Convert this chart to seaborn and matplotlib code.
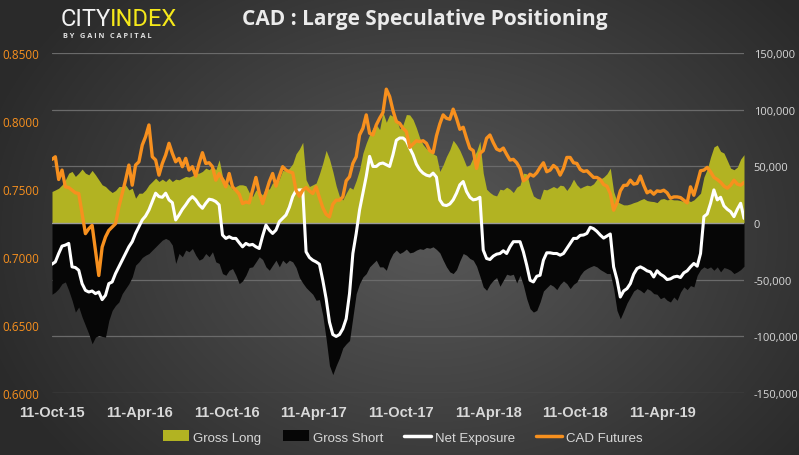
import numpy as np
import pandas as pd
import matplotlib
matplotlib.use("Agg")
import matplotlib.pyplot as plt
from matplotlib.ticker import FuncFormatter, FixedLocator
from matplotlib.lines import Line2D
from matplotlib.patches import Patch
import seaborn as sns

# ---------------- data (weekly) ----------------
start_date = "2015-10-11"

gross_long = [
    27800, 29200, 30700, 33700, 38100, 44000, 45500, 41100, 44000, 47600,
    44000, 42500, 46400, 42500, 38100, 33700, 32200, 29200, 26900, 28700,
    32200, 32200, 33700, 29200, 30700, 21900, 26300, 26300, 29200, 33700,
    36600, 39600, 36600, 38700, 36600, 39600, 36600, 38700, 38100, 39600,
    41100, 40500, 41700, 44000, 44000, 45500, 48400, 47000, 49900, 47000,
    55800, 41100, 36600, 33700,
    29800, 32200, 33700, 33700, 32800, 26900, 23300, 29200, 26900, 24800,
    31600, 29800, 35700, 32800, 38700, 46400, 45800, 48400, 52300, 61100,
    65300, 71200, 38100, 32200, 33700, 35200, 43400, 52900, 64100, 56400,
    45500, 32800, 23300, 20400, 26300, 31600, 29800, 37500, 47000, 61700,
    70600, 78000, 83900, 86800, 82400, 97800, 88900, 95700, 94200, 92800,
    83000, 86800,
    95700, 95400, 91300, 83900, 75000, 69100, 65600, 63200, 61100, 59400,
    45500, 51400, 58800, 64700, 73000, 69100, 64100, 57300, 49900, 51400,
    58200, 63200, 72100, 44000, 29800, 26900, 24800, 23900, 29800, 29200,
    31600, 29800, 26900, 31600, 33400, 44000, 43400, 32200, 23900, 21900,
    21000, 29800, 29200, 30700, 32200, 30700, 33400, 32800, 28700, 32800,
    38700,
    33700, 30700, 32200, 33400, 32800, 34600, 38700, 38700, 40500, 43400,
    48400, 27800, 18900, 17400, 16000, 16000, 16800, 18000, 18900, 20400,
    21600, 19800, 19200, 18900, 18000, 21000, 21600, 20400, 21000, 20400,
    20400, 19800, 18900, 20400, 18900, 20400, 23300, 26300, 40500, 47600,
    58200, 67100, 68800, 63200, 61700, 55200, 48400, 47000, 49300, 56400,
    60300,
]

gross_short = [
    -62900, -60900, -57900, -53500, -52000, -59400, -68200, -78600, -74100, -83000,
    -90400, -97800, -106600, -100700, -99300, -100100, -100700, -86000, -77100, -72700,
    -69700, -62300, -57900, -53500, -47600, -37200, -34300, -30400, -28400, -26900,
    -23900, -21000, -18000, -15100, -13600, -15100, -19500, -35700, -26900, -29800,
    -23900, -25400, -22500, -28400, -32800, -31300, -26900, -29800, -25400, -34300,
    -35700, -44600, -46100, -41700,
    -40200, -46100, -53500, -51100, -46100, -39300, -38700, -34300, -29800, -32200,
    -38700, -41700, -37200, -32800, -38700, -32800, -35700, -32800, -34300, -39300,
    -48100, -52900, -57000, -60000, -62900, -68200, -67600, -81500, -102200, -125800,
    -133800, -125800, -119000, -110200, -106600, -103700, -83000, -62300, -53500, -47600,
    -44600, -38700, -35700, -32800, -38700, -38700, -41700, -32800, -26900, -23900,
    -26900, -25400,
    -23000, -26300, -25700, -23900, -22700, -23300, -21600, -22200, -21000, -23300,
    -26300, -32800, -38700, -43100, -44600, -41100, -33400, -26900, -28400, -31300,
    -32800, -38100, -47000, -56400, -59400, -54100, -50500, -48100, -55800, -50500,
    -45200, -46100, -45200, -52900, -46100, -54900, -66800, -75600, -78600, -77100,
    -69700, -60000, -57000, -54100, -55800, -58800, -54100, -51100, -53500, -57900,
    -54100,
    -52000, -46100, -42200, -40200, -38700, -37500, -38700, -41100, -42800, -44600,
    -44600, -57900, -77100, -84500, -77700, -70600, -65300, -60000, -57900, -59400,
    -61700, -57900, -59400, -62300, -62900, -66800, -65300, -68200, -69700, -65300,
    -68200, -60900, -56400, -58800, -55200, -56400, -46100, -41100, -38700, -40200,
    -38700, -41700, -38700, -43100, -39300, -40200, -41700, -44600, -43100, -41100,
    -38100,
]

net_exposure = [
    -36300, -34300, -26900, -20400, -19500, -18000, -38700, -39300, -41700, -53500,
    -59400, -60900, -60000, -62300, -60900, -67600, -63800, -53500, -52000, -44600,
    -38700, -32800, -26900, -21000, -16500, -9200, -3200, 2700, 6200, 11500,
    18900, 26300, 23300, 22700, 26300, 20400, 18000, 2700, 7100, 12100,
    16000, 20400, 23300, 20400, 16000, 13000, 17400, 21000, 20400, 18900,
    16000, -10600, -13600, -12100,
    -13600, -13600, -17400, -21000, -18000, -19500, -18900, -21000, -22500, -11500,
    -1800, -6200, -9200, -6200, 1200, 4100, 7100, 13900, 23300, 28700,
    29200, 29200, -25400, -30400, -32800, -34300, -36300, -50500, -66800, -87400,
    -98400, -100100, -98400, -93300, -84500, -62300, -26900, -9200, 11500, 26300,
    41100, 58800, 49900, 49900, 52300, 52900, 51400, 49900, 60300, 73000,
    75000, 75000,
    72400, 66200, 60300, 52000, 47000, 44000, 42200, 41400, 44000, 40500,
    20400, 16000, 15400, 16800, 20400, 26300, 33700, 36600, 27800, 22700,
    20400, 21000, 22700, -23900, -31300, -32200, -29200, -27500, -26900, -24500,
    -26900, -21000, -16500, -16500, -16500, -25400, -37200, -50500, -52000, -47000,
    -46100, -32800, -26300, -26300, -26900, -26900, -28400, -26900, -22500, -18000,
    -13600,
    -13600, -10900, -10600, -9200, -3800, -5000, -7400, -10600, -13300, -11500,
    -9700, -38700, -49900, -65300, -60000, -57900, -53500, -45200, -40200, -38700,
    -40200, -42200, -43100, -47600, -42200, -45200, -47000, -49900, -49300, -47600,
    -47000, -48100, -44000, -42200, -38700, -35700, -38100, -26900, 5600, 8000,
    17400, 29200, 20400, 22700, 15100, 12100, 10000, 5600, 12100, 17400,
    4100,
]

cad_futures = [
    0.7718, 0.7737, 0.7570, 0.7639, 0.7516, 0.7511, 0.7491, 0.7472, 0.7467, 0.7319,
    0.7172, 0.7208, 0.7233, 0.7049, 0.6864, 0.7073, 0.7147, 0.7196, 0.7221, 0.7245,
    0.7368, 0.7467, 0.7565, 0.7676, 0.7528, 0.7676, 0.7700, 0.7823, 0.7885, 0.7971,
    0.7737, 0.7713, 0.7602, 0.7688, 0.7750, 0.7836, 0.7762, 0.7700, 0.7725, 0.7664,
    0.7725, 0.7639, 0.7664, 0.7595, 0.7688, 0.7767, 0.7688, 0.7693, 0.7664, 0.7565,
    0.7614, 0.7570, 0.7516, 0.7614,
    0.7516, 0.7491, 0.7462, 0.7393, 0.7405, 0.7398, 0.7491, 0.7585, 0.7472, 0.7393,
    0.7472, 0.7553, 0.7614, 0.7521, 0.7595, 0.7664, 0.7639, 0.7627, 0.7619, 0.7491,
    0.7447, 0.7491, 0.7511, 0.7486, 0.7467, 0.7516, 0.7437, 0.7363, 0.7314, 0.7295,
    0.7388, 0.7418, 0.7418, 0.7442, 0.7560, 0.7590, 0.7688, 0.7737, 0.7897, 0.7946,
    0.8045, 0.7910, 0.7897, 0.7971, 0.8020, 0.8062, 0.8234, 0.8180, 0.8077, 0.7996,
    0.7983, 0.7946,
    0.7922, 0.7806, 0.7831, 0.7855, 0.7848, 0.7855, 0.7836, 0.7782, 0.7767, 0.7890,
    0.7978, 0.8045, 0.8020, 0.8013, 0.8087, 0.8020, 0.7939, 0.7954, 0.7873, 0.7799,
    0.7782, 0.7651, 0.7762, 0.7782, 0.7873, 0.7897, 0.7841, 0.7794, 0.7782, 0.7801,
    0.7755, 0.7713, 0.7718, 0.7693, 0.7651, 0.7560, 0.7577, 0.7609, 0.7595, 0.7619,
    0.7659, 0.7693, 0.7627, 0.7639, 0.7673, 0.7654, 0.7602, 0.7651, 0.7732, 0.7732,
    0.7693,
    0.7688, 0.7644, 0.7629, 0.7634, 0.7609, 0.7585, 0.7585, 0.7570, 0.7533, 0.7521,
    0.7467, 0.7344, 0.7398, 0.7486, 0.7526, 0.7528, 0.7565, 0.7536, 0.7541, 0.7595,
    0.7528, 0.7472, 0.7486, 0.7462, 0.7486, 0.7482, 0.7491, 0.7472, 0.7432, 0.7442,
    0.7442, 0.7437, 0.7418, 0.7398, 0.7516, 0.7454, 0.7541, 0.7634, 0.7639, 0.7659,
    0.7627, 0.7585, 0.7570, 0.7550, 0.7521, 0.7506, 0.7528, 0.7565, 0.7536, 0.7528,
    0.7548,
]

x_tick_dates = ["2015-10-11", "2016-04-11", "2016-10-11", "2017-04-11",
                "2017-10-11", "2018-04-11", "2018-10-11", "2019-04-11"]
right_ticks = [-150000, -100000, -50000, 0, 50000, 100000, 150000]
left_ticks = [0.60, 0.65, 0.70, 0.75, 0.80, 0.85]

title = "CAD : Large Speculative Positioning"
legend_labels = ["Gross Long", "Gross Short", "Net Exposure", "CAD Futures"]

# ---------------- styling ----------------
GREEN = "#B2B322"
BLACK = "#060606"
ORANGE = "#F7901E"
WHITE = "#FFFFFF"
TXT = "#D8D8D8"
NARROW = ["Liberation Sans", "DejaVu Sans"]

sns.set_style("dark")
plt.rcParams["font.family"] = ["Open Sans", "DejaVu Sans"]

n = len(cad_futures)
dates = pd.date_range(start_date, periods=n, freq="7D")
df = pd.DataFrame({
    "date": dates,
    "long": gross_long,
    "short": gross_short,
    "net": net_exposure,
    "cad": cad_futures,
})

W, H = 799, 456
fig = plt.figure(figsize=(W / 100, H / 100), dpi=100)
fig.patch.set_facecolor("#3a3a3a")

# radial dark background
yy, xx = np.mgrid[0:H, 0:W]
d = np.sqrt(((xx - 430) / 470.0) ** 2 + ((yy - 235) / 360.0) ** 2)
v = (88 - 46 * np.clip(d, 0, 1)) / 255.0
bg = np.dstack([v, v, v])
fig.figimage(bg, 0, 0, zorder=-10)

ax = fig.add_axes([52 / W, 62 / H, 692 / W, 340 / H])
ax.set_zorder(1)
ax.patch.set_alpha(0)
ax.set_axisbelow(True)

ax.fill_between(df["date"], 0, df["long"], color=GREEN, lw=0, zorder=2)
ax.fill_between(df["date"], 0, df["short"], color=BLACK, lw=0, zorder=2)
ax.axhline(0, color="#9a9a9a", lw=1.0, zorder=3)
sns.lineplot(data=df, x="date", y="net", ax=ax, color=WHITE, lw=2.2, zorder=4)

ax.set_ylim(-150000, 150000)
ax.set_xlim(dates[0], dates[-1])
ax.yaxis.set_major_locator(FixedLocator(right_ticks))
ax.yaxis.set_major_formatter(FuncFormatter(lambda val, p: f"{val:,.0f}"))
ax.grid(axis="y", color="#6a6a6a", lw=0.9)
ax.grid(axis="x", visible=False)

ax2 = ax.twinx()
ax2.set_zorder(2)
ax2.patch.set_alpha(0)
sns.lineplot(data=df, x="date", y="cad", ax=ax2, color=ORANGE, lw=2.4, zorder=5)
ax2.set_ylim(0.60, 0.85)
ax2.yaxis.set_major_locator(FixedLocator(left_ticks))
ax2.yaxis.set_major_formatter(FuncFormatter(lambda val, p: f"{val:.4f}"))
ax2.grid(False)

ax.yaxis.tick_right()
ax2.yaxis.tick_left()

ax.set_xticks(pd.to_datetime(x_tick_dates))
ax.set_xticklabels([pd.Timestamp(t).strftime("%d-%b-%y") for t in x_tick_dates],
                   fontsize=10.5, fontweight="bold", color=TXT, family=NARROW)
ax.tick_params(axis="x", length=0, pad=9)
ax.tick_params(axis="y", length=0, pad=7, labelsize=8, labelcolor=TXT)
ax2.tick_params(axis="y", length=0, pad=9, labelsize=8.5, labelcolor=ORANGE)
for a in (ax, ax2):
    a.set_xlabel("")
    a.set_ylabel("")
    for s in a.spines.values():
        s.set_visible(False)

# title and logo
fig.text(0.532, 1 - 20 / H, title, ha="center", va="center", fontsize=15,
         fontweight="bold", color="#EBEBEB")
fig.text(61 / W, 1 - 19 / H, "CITY", ha="left", va="center", fontsize=17,
         color="#F2F2F2", family=["Roboto", "DejaVu Sans"])
fig.text(110 / W, 1 - 19 / H, "INDEX", ha="left", va="center", fontsize=17,
         color="#F5E81A", family=["Roboto", "DejaVu Sans"])
fig.text(63 / W, 1 - 36 / H, "B Y   G A I N   C A P I T A L", ha="left", va="center",
         fontsize=5.3, fontweight="bold", color="#E0E0E0")

# legend
handles = [
    Patch(facecolor=GREEN, edgecolor="none"),
    Patch(facecolor=BLACK, edgecolor="none"),
    Line2D([], [], color=WHITE, lw=2.5),
    Line2D([], [], color=ORANGE, lw=2.5),
]
leg = fig.legend(handles, legend_labels, loc="center", bbox_to_anchor=(403 / W, 18 / H),
                 ncol=4, frameon=False, handlelength=2.0, handleheight=0.9,
                 handletextpad=0.3, columnspacing=1.6,
                 prop={"family": NARROW, "size": 9.5})
for t in leg.get_texts():
    t.set_color(TXT)

fig.savefig("out.png", dpi=100, facecolor=fig.get_facecolor())
